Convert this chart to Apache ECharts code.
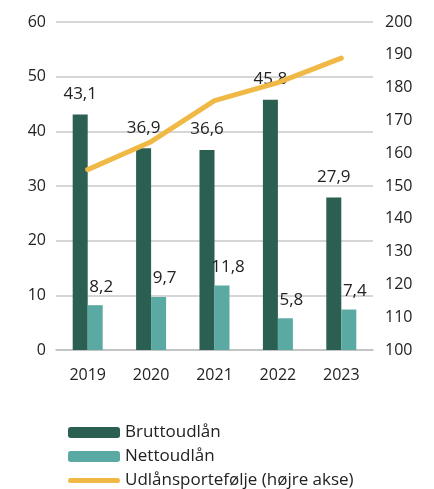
<!DOCTYPE html>
<html>
<head>
<meta charset="utf-8">
<script src="https://cdn.jsdelivr.net/npm/echarts@6/dist/echarts.min.js"></script>
<style>
html, body { margin: 0; padding: 0; background: #fff; }
#chart { width: 434px; height: 489px; }
</style>
</head>
<body>
<div id="chart"></div>
<script>
var years = ['2019', '2020', '2021', '2022', '2023'];
var brutto = [43.1, 36.9, 36.6, 45.8, 27.9];
var netto = [8.2, 9.7, 11.8, 5.8, 7.4];
var portefolje = [155, 163.5, 176, 181.5, 189];

var font = 'Open Sans';
var fmt = function (p) { return String(p.value).replace('.', ','); };

var myChart = echarts.init(document.getElementById('chart'));

var option = {
    animation: false,
    textStyle: { fontFamily: font },
    legend: {
        orient: 'vertical',
        left: 63,
        top: 419,
        height: 90,
        itemWidth: 52,
        itemHeight: 11,
        itemGap: 7,
        textStyle: { fontSize: 17, color: '#222', fontFamily: font },
        data: [
            'Bruttoudlån',
            'Nettoudlån',
            {
                name: 'Udlånsportefølje (højre akse)',
                icon: 'path://M0 0 M52 11 M2 3 L50 3 Q52 3 52 5.5 Q52 8 50 8 L2 8 Q0 8 0 5.5 Q0 3 2 3 Z'
            }
        ]
    },
    grid: { left: 56, right: 61, top: 22, bottom: 139 },
    xAxis: {
        type: 'category',
        data: years,
        axisTick: { show: false },
        axisLine: { lineStyle: { color: '#bfbfbf', width: 1.5 } },
        axisLabel: { fontSize: 16, color: '#222', margin: 17 }
    },
    yAxis: [
        {
            type: 'value', min: 0, max: 60, interval: 10,
            axisLabel: { fontSize: 16, color: '#222', margin: 10 },
            splitLine: { lineStyle: { color: '#c8c8cc', width: 1.5 } }
        },
        {
            type: 'value', min: 100, max: 200, interval: 10,
            axisLabel: { fontSize: 16, color: '#222', margin: 12 },
            splitLine: { show: false }
        }
    ],
    series: [
        {
            name: 'Bruttoudlån',
            type: 'bar',
            data: brutto,
            barWidth: 15,
            barGap: '0%',
            itemStyle: { color: '#2b5f51' },
            label: { show: true, position: 'top', distance: 12, fontSize: 17, color: '#222', formatter: fmt }
        },
        {
            name: 'Nettoudlån',
            type: 'bar',
            data: netto,
            barWidth: 15,
            itemStyle: { color: '#5aa9a2' },
            label: { show: true, position: 'top', distance: 10, offset: [6, 0], fontSize: 17, color: '#222', formatter: fmt }
        },
        {
            name: 'Udlånsportefølje (højre akse)',
            type: 'line',
            yAxisIndex: 1,
            data: portefolje,
            symbol: 'none',
            z: 5,
            lineStyle: { color: '#f0b946', width: 5, cap: 'round' },
            itemStyle: { color: '#f0b946' }
        }
    ]
};

myChart.setOption(option);
</script>
</body>
</html>
